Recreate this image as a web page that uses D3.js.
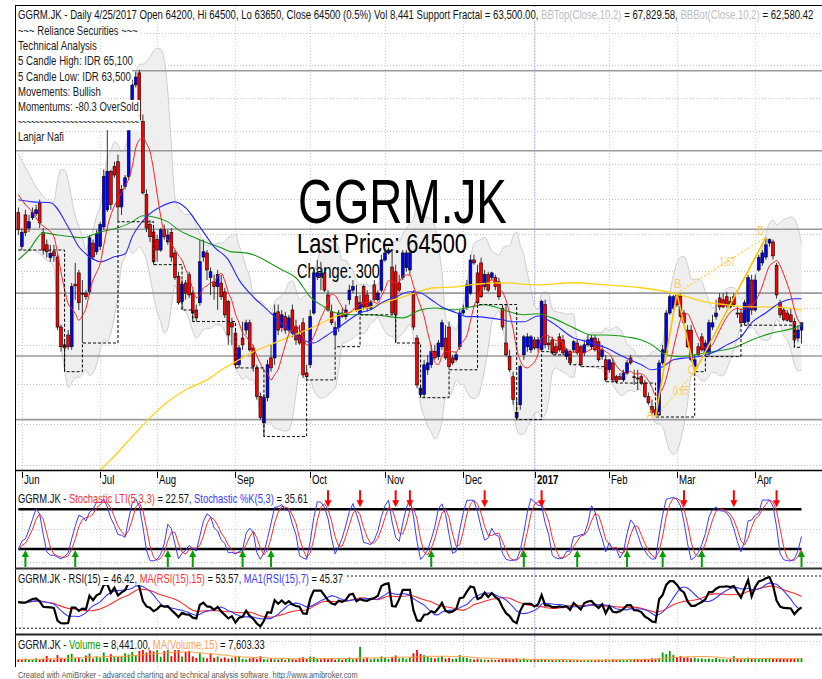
<!DOCTYPE html>
<html>
<head>
<meta charset="utf-8">
<script src="https://cdnjs.cloudflare.com/ajax/libs/d3/7.8.5/d3.min.js"></script>
<style>
body { margin: 0; background: #fff; }
svg { display: block; }
text { font-family: Arial, "Liberation Sans", sans-serif; white-space: pre; }
</style>
</head>
<body>
<svg width="822" height="679"></svg>
<script>
var WIDTH = 822, HEIGHT = 679;

// daily bars, 31 May 2016 .. 25 Apr 2017
var opens = [
  69175,67700,69075,68500,68950,69125,69600,68300,67775,67225,
  67475,67250,64325,63600,64000,63525,66100,66575,65725,65725,
  65775,67850,67475,67700,68550,69300,71000,71225,71450,69425,
  70325,70775,74325,75025,75600,73300,69975,68650,68325,68000,
  67550,68425,67900,68300,67425,66425,65375,66150,66500,65725,
  65025,65325,67250,67425,66375,66200,66000,66150,65775,65375,
  64500,64075,62800,63875,64200,64500,63475,62675,61550,60525,
  61500,63075,63075,64950,64300,64750,64200,65025,64325,64000,
  64500,62475,62800,64900,66425,66450,66575,65650,64950,64000,
  64300,64900,64750,65450,65850,65575,64900,66000,65650,65100,
  66075,65450,65850,67125,67425,66825,66625,66150,66375,66800,
  66700,65775,63875,61625,61625,62600,62800,63325,63125,63525,
  63875,64325,63075,63000,63525,64900,65150,65725,67125,66575,
  67000,66000,66500,66375,66375,66200,65100,63675,63125,62325,
  60725,61225,63200,63525,63400,63800,63475,63400,65250,63675,
  63800,63525,63925,63800,63125,63325,63400,63675,63525,63275,
  63600,63525,63875,63725,63125,63000,62600,62875,62325,62325,
  62200,62475,63075,62325,62275,62325,62075,61550,61150,61025,
  60825,62875,63275,64900,65100,65650,65600,64900,64200,64200,
  62725,63525,63925,63275,63275,64325,64750,65525,65450,65575,
  65375,65575,64900,64900,64500,64550,66275,65025,66700,67000,
  67250,67850,67900,66900,65325,65025,64900,64825,64550,63875,
  64200];
var highs = [
  69400,68500,69300,69075,69400,69525,69750,68500,68000,67775,
  67775,67350,64425,63800,64200,66150,67000,66700,66275,65850,
  68200,68000,68425,68775,71100,72925,71100,71450,71775,70400,
  70850,73150,75275,75650,75750,73625,70200,68850,68500,68200,
  68500,68650,68425,68500,67550,66625,66275,66275,66625,65850,
  65250,68000,68000,67550,66800,66500,66700,66500,65950,65450,
  64700,64200,63600,64550,64625,64625,63600,62800,61700,61625,
  63000,63600,65250,65250,65025,64950,64825,65250,64625,64400,
  64700,62800,65025,66800,67125,67050,66800,65850,65250,64550,
  65025,65100,65250,66075,66275,66075,65650,66075,65850,65450,
  66275,65850,67350,67550,67650,67550,66925,66500,67550,67550,
  67550,65850,64000,62000,63000,63200,63600,63600,63800,64625,
  64400,64550,63200,63325,65025,65250,66275,67350,67350,66925,
  67225,66700,66625,66625,66500,66375,65250,65250,63400,62525,
  61425,62800,64000,64075,64000,63925,63925,65450,65450,63925,
  63925,63675,64075,64000,63475,63400,63800,63800,63600,63800,
  64000,64000,64000,63875,63600,63200,63000,63075,62400,62475,
  62600,63000,63200,62600,62600,62400,62200,61700,61425,61225,
  63000,63600,65025,65650,65650,65725,65700,65025,64400,64400,
  63200,63675,64075,63800,64625,64825,65450,65725,65725,65775,
  65575,65725,65150,65100,65450,66500,66500,66500,67350,67550,
  68100,68050,68000,67000,65450,65100,65025,65100,64700,64400,
  64500];
var lows = [
  68200,67550,68150,68325,68850,69025,68500,67350,67225,67050,
  67050,64200,63325,62525,63400,63400,65450,65025,63675,65450,
  65650,67125,67350,67550,68425,69200,69300,70725,68775,69075,
  70200,70625,74075,74900,73150,69975,68325,67900,66925,67050,
  67475,68000,67775,67050,66275,65250,65025,65450,65525,64550,
  64550,65200,67050,66275,65650,65450,65025,65450,64700,63600,
  63600,62675,62675,63400,64000,63325,62525,61425,60650,60000,
  61350,62525,62800,64000,64125,64050,64100,63900,63600,63600,
  62275,62200,62675,64825,66275,65850,65775,64950,64400,63525,
  64125,64700,64625,65250,65725,64950,64825,65025,64950,65025,
  65375,65375,65775,67050,67350,64825,63675,65775,66275,66625,
  66500,64200,61875,61500,61500,62400,62675,63000,63000,63400,
  63000,62600,62800,62925,63400,64825,65025,65650,66925,65250,
  65525,65850,65775,66275,65850,65450,64200,63125,62525,61225,
  60650,61025,63000,63325,63275,63400,63325,63325,63475,63400,
  63200,63200,63325,63200,63000,62800,63275,63200,62725,63150,
  63525,63400,63325,62925,63000,62125,62475,62125,62075,62200,
  62125,62400,62800,62000,61800,62000,61500,61225,60825,60750,
  60800,62800,63200,64825,65025,65150,64700,64400,63475,62925,
  62525,63125,63325,63125,63150,64200,64625,65025,65100,65100,
  65100,65150,64700,64400,64400,64400,64825,64950,66625,66875,
  67125,67700,67150,65500,64700,64550,64550,64500,63500,63725,
  63650];
var closes = [
  68425,68300,68300,68775,69175,69300,68725,67550,67475,67400,
  67300,64325,63525,63475,63525,66000,66025,65325,65700,65575,
  68075,67250,68250,68650,70775,71000,69525,70850,69425,70200,
  70725,72925,75025,75400,73375,70050,68500,68125,67050,67550,
  68425,68125,68200,67250,66375,65325,66100,65725,65650,64900,
  64700,67050,67475,66700,66625,66000,66500,65575,64825,64000,
  64325,62800,63475,63600,64500,63400,62725,61550,60725,61500,
  62800,62675,64900,64200,64825,64200,64700,64075,63800,63675,
  62400,62325,64750,66575,66575,66550,65850,65025,64500,64300,
  64900,64750,65025,65850,66000,65025,65325,65150,65100,65325,
  65450,65725,67125,67425,67550,64900,64825,65850,67425,67425,
  67425,64325,62000,61875,62800,62875,63325,63075,63675,64500,
  63075,62725,62875,63200,64900,65025,66075,67125,67000,65325,
  65575,66500,65850,66575,66000,65575,64325,63200,62600,61425,
  60925,62725,63925,63925,63925,63475,63800,65375,63600,63600,
  63275,63275,63400,63275,63400,62875,63725,63275,62800,63600,
  63800,63875,63400,63000,63400,62200,63000,62200,62125,62225,
  62475,62875,62875,62300,62250,62075,61550,61300,60925,60825,
  62875,63400,64900,65575,65575,65250,64750,64500,63525,63000,
  63000,63200,63400,63675,64500,64500,64900,65150,65150,65200,
  65150,65250,64875,64500,65325,66375,65025,66275,67225,67425,
  67775,68000,67300,65650,64825,64625,64600,64550,63800,64200,
  64500];
var volumes = [
  6200,5100,7400,4800,5600,8300,6100,7200,13800,6500,
  5200,15500,9300,7100,16200,18400,8600,10100,6300,14500,
  19200,8100,12400,9800,21500,8700,17600,11200,10400,12100,
  19800,16900,22600,15800,24500,27800,21300,25900,23600,26400,
  11900,24800,27200,13100,26100,29500,12200,22700,24900,12600,
  9400,19800,10200,8600,18900,9700,12300,8100,10500,7600,
  9100,11800,13400,6900,5800,8200,9600,7100,12800,6400,
  5900,7800,6200,5400,7100,4800,8800,6300,5200,9400,
  10800,6600,12100,11400,7300,5900,8600,6200,7800,5100,
  6800,4900,7200,10300,6100,8900,34200,7600,9800,6400,
  8500,7300,12600,9100,6800,11500,14700,8200,9600,7400,
  10900,19600,26800,18100,15300,12600,9800,8400,10200,13700,
  7900,9300,6800,8100,15900,10700,9200,6500,5800,7300,
  6100,5400,4900,5700,4600,5200,6800,7400,5900,6700,
  8200,6100,7800,5400,4700,5100,4300,6900,5800,4600,
  4200,3900,4800,4100,3800,4400,3700,4300,3600,4000,
  3900,4500,3800,5200,4700,6100,5400,5900,4800,6300,
  5500,5000,6400,5800,6900,5300,7200,6100,8300,7600,
  9100,21400,17800,24600,15900,11300,13200,9400,10600,8700,
  9900,7600,8200,6900,7700,6400,8800,7100,6300,5800,
  6600,12800,7400,6100,6900,9300,7800,6600,7200,7800,
  9100,8400,7600,6900,8100,7300,6800,7900,6700,7400,
  8441];

var monthLabels = ["Jun", "Jul", "Aug", "Sep", "Oct", "Nov", "Dec", "2017", "Feb", "Mar", "Apr"];
var monthFirstBar = [1, 23, 39, 61, 82, 103, 125, 145, 166, 185, 207];

// moving averages: [bar, price]
var ma20Line = [[0,69740],[4,69650],[9,69610],[14,68550],[17,67690],[20,67260],[23,67050],[27,67260],
  [30,67390],[32,68120],[36,68990],[40,69430],[44,69650],[47,69390],[51,68550],[55,67690],[59,67130],
  [62,66280],[66,65570],[70,65030],[74,64460],[80,63800],[83,63680],[86,63920],[89,64210],[93,64620],
  [96,64910],[99,65030],[102,65320],[106,65570],[110,65780],[113,65730],[116,65450],[119,65150],
  [123,64910],[126,64750],[129,64750],[132,64700],[136,64620],[139,64540],[142,64540],[146,64780],
  [150,64500],[156,63880],[160,63720],[165,63480],[170,63120],[175,62800],[178,62600],[181,62720],
  [184,63000],[188,63080],[191,63120],[195,63280],[199,63600],[203,63920],[206,64500],[210,64910],
  [214,65320],[218,65490],[220,65490]];
var ma50Line = [[0,67130],[3,67560],[7,68290],[11,68200],[15,68120],[18,68080],[23,68330],[28,68510],
  [32,68770],[35,69040],[39,68950],[42,68770],[45,68420],[49,68120],[53,67860],[57,67650],[60,67470],
  [64,67430],[68,67220],[71,66960],[74,66710],[78,66370],[82,65570],[86,65150],[89,64910],[94,64830],
  [99,64830],[104,64750],[108,64700],[113,65030],[117,65110],[122,65030],[127,65150],[131,65240],
  [134,65150],[138,64950],[142,64830],[146,64870],[150,64700],[156,64290],[161,64000],[165,64000],
  [171,63920],[175,63800],[178,63600],[182,63200],[186,63120],[190,63200],[195,63320],[201,63480],
  [206,63800],[212,64090],[218,64290],[220,64420]];
var ma200Line = [[23,58740],[26,59120],[32,60000],[36,60580],[42,61340],[47,61810],[53,62200],
  [58,62680],[62,63000],[66,63320],[70,63560],[74,63800],[83,64330],[89,64750],[99,65150],[108,65570],
  [117,65950],[123,65990],[127,66070],[136,66160],[146,66070],[156,66160],[165,66070],[175,65950],
  [184,65730],[193,65360],[199,65240],[206,65150],[212,65150],[220,65030]];
var ma7Lead = [[0,69975],[2,69525],[4,69200]];
var bbTopLead = [71800,71500,71200,70900,70600,70300,70100,69900,69750];
var bbBotLead = [67100,67250,67400,67500,67550,67500,67400,67250,67100];

var levels = [75700, 71950, 68450, 65725, 63150, 60650];
var sellArrows = [87, 96, 106, 110, 131, 147, 187, 201, 213];
var buyArrows = [2, 16, 42, 49, 63, 71, 116, 142, 157, 171, 181, 192, 220];

var patternNames = ["A", "B", "C", "D"];
var patternBars = [179, 185, 190, 210];
var patternPrices = [60750, 65725, 62525, 68100];
var patternRatios = ["0.65", "1.67"];

var noteLines = ["~~~ Reliance Securities ~~~", "Technical Analysis", "5 Candle High: IDR 65,100",
  "5 Candle Low: IDR 63,500", "Movements: Bullish", "Momentums: -80.3 OverSold",
  "~~~~~~~~~~~~~~~~~~~~~~~~~~~~", "Lanjar Nafi"];
var noteWidths = [120, 79, 115, 113, 83, 121, 121, 46];

var N = closes.length;
var idx = d3.range(N);

var svg = d3.select("svg");
var x = d3.scaleLinear().domain([0, N - 1]).range([18.3, 801.5]);
var y = d3.scaleLog().domain([58925, 77525]).range([465, 33.3]);
var yS = d3.scaleLinear().domain([0, 100]).range([562.2, 496.1]);
var yR = d3.scaleLinear().domain([30, 70]).range([628.3, 576]);
var yV = d3.scaleLinear().domain([0, 56000]).range([662, 637]);

function avgBack(arr, n, i) {
  var s = 0, c = 0;
  for (var k = Math.max(0, i - n + 1); k <= i; k++) { s += arr[k]; c++; }
  return s / c;
}

function fitText(parent, parts, tx, ty, size, width, weight) {
  var t = parent.append("text").attr("font-size", size).attr("font-weight", weight || "normal");
  parts.forEach(function(p) { t.append("tspan").attr("fill", p[1]).text(p[0]); });
  var w = t.node().getComputedTextLength();
  t.attr("transform", "translate(" + tx + "," + ty + ") scale(" + (width / w) + ",1)");
  return t;
}

var defs = svg.append("defs");
function clip(id, y0, y1) {
  defs.append("clipPath").attr("id", id).append("rect")
    .attr("x", 15).attr("y", y0).attr("width", WIDTH - 15).attr("height", y1 - y0);
}
clip("cMain", 5.5, 470);
clip("cSto", 487, 568);
clip("cRsi", 570, 634);
clip("cVol", 636, 667);

// ---------- grid ----------
var grid = svg.append("g");
var gridPrices = d3.range(13).map(function(k) { return 58925 + k * 1550; });
grid.selectAll(".hg").data(gridPrices).enter().append("line")
  .attr("x1", 15).attr("x2", WIDTH)
  .attr("y1", function(d) { return Math.round(y(d)) + 0.5; })
  .attr("y2", function(d) { return Math.round(y(d)) + 0.5; })
  .attr("stroke", "#c4c4c4").attr("stroke-dasharray", "1,2");
grid.selectAll(".vg").data(monthFirstBar).enter().append("line")
  .attr("x1", function(d) { return Math.round(x(d)) + 0.5; })
  .attr("x2", function(d) { return Math.round(x(d)) + 0.5; })
  .attr("y1", 6).attr("y2", 667)
  .attr("stroke", "#d4d4d4").attr("stroke-dasharray", "1,2");
[50, 0].forEach(function(v) {
  grid.append("line").attr("x1", 15).attr("x2", WIDTH)
    .attr("y1", Math.round(yS(v)) + 0.5).attr("y2", Math.round(yS(v)) + 0.5)
    .attr("stroke", "#c4c4c4").attr("stroke-dasharray", "1,2");
});
[70, 30].forEach(function(v) {
  grid.append("line").attr("x1", 15).attr("x2", WIDTH)
    .attr("y1", yR(v)).attr("y2", yR(v))
    .attr("stroke", "#666").attr("stroke-width", 1.6).attr("stroke-dasharray", "2,2");
});
grid.append("line").attr("x1", 15).attr("x2", WIDTH).attr("y1", 641.5).attr("y2", 641.5)
  .attr("stroke", "#c4c4c4").attr("stroke-dasharray", "1,2");
grid.append("line").attr("x1", x(145)).attr("x2", x(145)).attr("y1", 6).attr("y2", 667)
  .attr("stroke", "#cfcff2").attr("stroke-width", 1);

// ---------- main price panel ----------
var main = svg.append("g").attr("clip-path", "url(#cMain)");

var bbTop = [], bbBot = [];
idx.forEach(function(i) {
  if (i < 9) { bbTop.push(bbTopLead[i]); bbBot.push(bbBotLead[i]); return; }
  var w = closes.slice(i - 9, i + 1);
  var m = d3.mean(w);
  var sd = Math.sqrt(d3.mean(w, function(v) { return (v - m) * (v - m); }));
  bbTop.push(m + 2 * sd); bbBot.push(m - 2 * sd);
});
main.append("path").datum(idx)
  .attr("d", d3.area().x(function(i) { return x(i); })
    .y0(function(i) { return y(bbBot[i]); }).y1(function(i) { return y(bbTop[i]); })
    .curve(d3.curveMonotoneX))
  .attr("fill", "#efefef");
[bbTop, bbBot].forEach(function(arr) {
  main.append("path").datum(idx)
    .attr("d", d3.line().x(function(i) { return x(i); }).y(function(i) { return y(arr[i]); }).curve(d3.curveMonotoneX))
    .attr("fill", "none").attr("stroke", "#cdcdcd").attr("stroke-width", 1);
});

main.selectAll(".lvl").data(levels).enter().append("line")
  .attr("x1", 15).attr("x2", WIDTH)
  .attr("y1", function(d) { return y(d); }).attr("y2", function(d) { return y(d); })
  .attr("stroke", "#9a9a9a").attr("stroke-width", 1.6);

// watermark
fitText(main, [["GGRM.JK", "#000"]], 298, 223, 63, 209);
fitText(main, [["Last Price: 64500", "#000"]], 297, 252.5, 28, 170);
fitText(main, [["Change: 300", "#000"]], 297, 277.5, 19.5, 83);

// candles
var candles = main.append("g");
candles.selectAll("line").data(idx).enter().append("line")
  .attr("x1", function(i) { return x(i); }).attr("x2", function(i) { return x(i); })
  .attr("y1", function(i) { return y(highs[i]); }).attr("y2", function(i) { return y(lows[i]); })
  .attr("stroke", "#333").attr("stroke-width", 1);
candles.selectAll("rect").data(idx).enter().append("rect")
  .attr("x", function(i) { return x(i) - 1.4; }).attr("width", 2.8)
  .attr("y", function(i) { return y(Math.max(opens[i], closes[i])); })
  .attr("height", function(i) { return Math.max(1, Math.abs(y(opens[i]) - y(closes[i]))); })
  .attr("fill", function(i) { return closes[i] >= opens[i] ? "#0000ff" : "#ff0000"; })
  .attr("stroke", "#000").attr("stroke-width", 0.6);

// moving averages
var pLine = d3.line().x(function(d) { return x(d[0]); }).y(function(d) { return y(d[1]); }).curve(d3.curveMonotoneX);
main.append("path").datum(ma200Line).attr("d", pLine).attr("fill", "none").attr("stroke", "#ffd21a").attr("stroke-width", 1.3);
main.append("path").datum(ma50Line).attr("d", pLine).attr("fill", "none").attr("stroke", "#1a9a1a").attr("stroke-width", 1.1);
main.append("path").datum(ma20Line).attr("d", pLine).attr("fill", "none").attr("stroke", "#2828ff").attr("stroke-width", 1.1);
var ma7 = ma7Lead.concat(d3.range(6, N).map(function(i) { return [i, avgBack(closes, 7, i)]; }));
main.append("path").datum(ma7).attr("d", pLine).attr("fill", "none").attr("stroke", "#ff2020").attr("stroke-width", 1);

// support fractal
var support = [], cur = null;
idx.forEach(function(i) {
  var ok = true;
  for (var k = -2; k <= 2; k++) {
    if (k !== 0 && lows[i + k] !== undefined && lows[i + k] < lows[i]) ok = false;
  }
  if (ok) cur = lows[i];
  support.push(cur);
});
var firstSup = support.find(function(v) { return v !== null; });
support = support.map(function(v) { return v === null ? firstSup : v; });
main.append("path").datum(idx)
  .attr("d", d3.line().x(function(i) { return x(i); }).y(function(i) { return y(support[i]); }).curve(d3.curveStepAfter))
  .attr("fill", "none").attr("stroke", "#000").attr("stroke-width", 1).attr("stroke-dasharray", "3,2");

// ABCD pattern
var pts = patternBars.map(function(b, k) { return [x(b), y(patternPrices[k])]; });
var pat = main.append("g");
pat.append("path").attr("d", d3.line()(pts)).attr("fill", "none").attr("stroke", "#ffc000").attr("stroke-width", 1.6);
[[0, 2], [1, 3]].forEach(function(pr, k) {
  var a = pts[pr[0]], b = pts[pr[1]];
  pat.append("line").attr("x1", a[0]).attr("y1", a[1]).attr("x2", b[0]).attr("y2", b[1])
    .attr("stroke", "#ffcf40").attr("stroke-width", 1.2).attr("stroke-dasharray", "2,2");
  fitText(pat, [[patternRatios[k], "#ffcc55"]], (a[0] + b[0]) / 2 - 2, (a[1] + b[1]) / 2 + 1, 13, 16);
});
var lblOff = [[-9, 2], [-3, -5], [-7, 2], [-9, -2]];
pts.forEach(function(p, k) {
  fitText(pat, [[patternNames[k], "#ffcc55"]], p[0] + lblOff[k][0], p[1] + lblOff[k][1], 13, 7.5);
});

// notes
var notes = svg.append("g");
noteLines.forEach(function(s, k) {
  var by = 35 + k * 15.2;
  notes.append("rect").attr("x", 16).attr("y", by - 11).attr("width", noteWidths[k] + 3).attr("height", 15).attr("fill", "#fff");
  fitText(notes, [[s, "#1a1a1a"]], 18, by, 13, noteWidths[k]);
});

// borders
svg.append("line").attr("x1", 15).attr("x2", WIDTH).attr("y1", 5.5).attr("y2", 5.5).attr("stroke", "#000");
svg.append("line").attr("x1", 15.5).attr("x2", 15.5).attr("y1", 5).attr("y2", 667).attr("stroke", "#000");
svg.append("line").attr("x1", 15).attr("x2", WIDTH).attr("y1", 470.5).attr("y2", 470.5).attr("stroke", "#000").attr("stroke-width", 1.3);
svg.append("line").attr("x1", 15).attr("x2", WIDTH).attr("y1", 568.5).attr("y2", 568.5).attr("stroke", "#333").attr("stroke-width", 2);
svg.append("line").attr("x1", 15).attr("x2", WIDTH).attr("y1", 634.5).attr("y2", 634.5).attr("stroke", "#222").attr("stroke-width", 2);

// header
var head = svg.append("g");
head.append("rect").attr("x", 16).attr("y", 7).attr("width", 801).attr("height", 14).attr("fill", "#fff");
fitText(head, [
  ["GGRM.JK - Daily 4/25/2017 Open 64200, Hi 64500, Lo 63650, Close 64500 (0.5%) Vol 8,441 Support Fractal", "#111"],
  [" = 63,500.00, ", "#111"], ["BBTop(Close,10,2)", "#bdbdbd"], [" = 67,829.58, ", "#111"],
  ["BBBot(Close,10,2)", "#bdbdbd"], [" = 62,580.42", "#111"]], 18, 19, 13, 797);

// month axis
var axis = svg.append("g");
monthFirstBar.forEach(function(b, k) {
  var xx = Math.round(x(b)) + 0.5;
  axis.append("line").attr("x1", xx).attr("x2", xx).attr("y1", 472).attr("y2", 478).attr("stroke", "#000");
  axis.append("text").attr("font-size", 12.5).attr("fill", "#000")
    .attr("font-weight", monthLabels[k] === "2017" ? "bold" : "normal")
    .attr("transform", "translate(" + (xx + 1.5) + ",484) scale(0.77,1)").text(monthLabels[k]);
});

// ---------- stochastic ----------
var sto = svg.append("g").attr("clip-path", "url(#cSto)");
var num = [], den = [];
idx.forEach(function(i) {
  var lo = d3.min(lows.slice(Math.max(0, i - 4), i + 1));
  var hi = d3.max(highs.slice(Math.max(0, i - 4), i + 1));
  num.push(closes[i] - lo); den.push(hi - lo);
});
var stoK = idx.map(function(i) { return 100 * avgBack(num, 3, i) / avgBack(den, 3, i); });
var stoD = idx.map(function(i) { return avgBack(stoK, 3, i); });
[80, 20].forEach(function(v) {
  sto.append("line").attr("x1", x(0)).attr("x2", x(N - 1)).attr("y1", yS(v)).attr("y2", yS(v))
    .attr("stroke", "#000").attr("stroke-width", 2.6);
});
var sLine = function(arr) { return d3.line().x(function(i) { return x(i); }).y(function(i) { return yS(arr[i]); })(idx); };
sto.append("path").attr("d", sLine(stoD)).attr("fill", "none").attr("stroke", "#ff2a2a").attr("stroke-width", 1);
sto.append("path").attr("d", sLine(stoK)).attr("fill", "none").attr("stroke", "#3a3aff").attr("stroke-width", 1);
sellArrows.forEach(function(b) {
  var cx = x(b), tip = yS(80) - 2;
  sto.append("path").attr("fill", "#ff0000")
    .attr("d", "M" + (cx - 1) + "," + (tip - 17) + "H" + (cx + 1) + "V" + (tip - 7) + "H" + (cx + 3.5) +
      "L" + cx + "," + tip + "L" + (cx - 3.5) + "," + (tip - 7) + "H" + (cx - 1) + "Z");
});
buyArrows.forEach(function(b) {
  var cx = x(b), tip = yS(20) + 1;
  sto.append("path").attr("fill", "#00a000")
    .attr("d", "M" + (cx - 1) + "," + (tip + 17) + "H" + (cx + 1) + "V" + (tip + 7) + "H" + (cx + 3.5) +
      "L" + cx + "," + tip + "L" + (cx - 3.5) + "," + (tip + 7) + "H" + (cx - 1) + "Z");
});
fitText(svg, [["GGRM.JK - ", "#111"], ["Stochastic LTI(5,3,3)", "#ff3030"], [" = 22.57, ", "#111"],
  ["Stochastic %K(5,3)", "#3a3aff"], [" = 35.61", "#111"]], 18, 502.5, 13, 290);

// ---------- RSI ----------
var rsiG = svg.append("g").attr("clip-path", "url(#cRsi)");
var chg = idx.map(function(i) { return i === 0 ? 0 : closes[i] - closes[i - 1]; });
var seed = d3.mean(chg.slice(1, 16), Math.abs);
var ag = seed, al = seed, rsi = [50];
for (var i = 1; i < N; i++) {
  ag = (ag * 14 + Math.max(chg[i], 0)) / 15;
  al = (al * 14 + Math.max(-chg[i], 0)) / 15;
  rsi.push(100 - 100 / (1 + ag / al));
}
var rsiMa15 = idx.map(function(i) { return avgBack(rsi, 15, i); });
var rsiMa7 = idx.map(function(i) { return avgBack(rsi, 7, i); });
var rLine = function(arr) { return d3.line().x(function(i) { return x(i); }).y(function(i) { return yR(arr[i]); })(idx); };
rsiG.append("path").attr("d", rLine(rsiMa15)).attr("fill", "none").attr("stroke", "#ff2a2a").attr("stroke-width", 1.1);
rsiG.append("path").attr("d", rLine(rsiMa7)).attr("fill", "none").attr("stroke", "#3a3aff").attr("stroke-width", 1.1);
rsiG.append("path").attr("d", rLine(rsi)).attr("fill", "none").attr("stroke", "#000").attr("stroke-width", 2.2);
svg.append("rect").attr("x", 16).attr("y", 572).attr("width", 329).attr("height", 13).attr("fill", "#fff");
fitText(svg, [["GGRM.JK - RSI(15) = 46.42, ", "#111"], ["MA(RSI(15),15)", "#ff3030"], [" = 53.57, ", "#111"],
  ["MA1(RSI(15),7)", "#3a3aff"], [" = 45.37", "#111"]], 18, 583, 13, 325);

// ---------- volume ----------
var volG = svg.append("g").attr("clip-path", "url(#cVol)");
volG.selectAll("line").data(idx).enter().append("line")
  .attr("x1", function(i) { return x(i); }).attr("x2", function(i) { return x(i); })
  .attr("y1", yV(0)).attr("y2", function(i) { return yV(volumes[i]); })
  .attr("stroke", function(i) { return i > 0 && closes[i] >= closes[i - 1] ? "#00a000" : "#ff0000"; })
  .attr("stroke-width", 1.8);
var volMa = idx.map(function(i) { return avgBack(volumes, 15, i); });
volG.append("path")
  .attr("d", d3.line().x(function(i) { return x(i); }).y(function(i) { return yV(volMa[i]); })(idx))
  .attr("fill", "none").attr("stroke", "#ffa040").attr("stroke-width", 1);
svg.append("rect").attr("x", 16).attr("y", 637).attr("width", 252).attr("height", 13).attr("fill", "#fff");
fitText(svg, [["GGRM.JK - ", "#111"], ["Volume", "#00a000"], [" = 8,441.00, ", "#111"],
  ["MA(Volume,15)", "#ffa060"], [" = 7,603.33", "#111"]], 18, 648.5, 13, 247);

// footer
fitText(svg, [["Created with AmiBroker - advanced charting and technical analysis software. http://www.amibroker.com", "#555"]],
  18, 678, 9, 340);
</script>
</body>
</html>
